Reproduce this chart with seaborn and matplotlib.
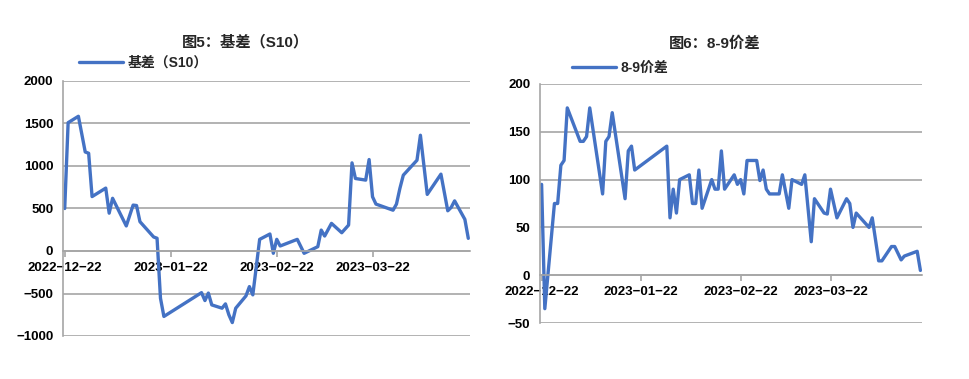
import matplotlib
matplotlib.use('Agg')
import matplotlib.pyplot as plt
import pandas as pd
import seaborn as sns

# ---------------- data ----------------
left_title = '图5：基差（S10）'
left_label = '基差（S10）'
left_dates = ['2022-12-22', '2022-12-23', '2022-12-26', '2022-12-28', '2022-12-29', '2022-12-30',
              '2023-01-03', '2023-01-04', '2023-01-05', '2023-01-09', '2023-01-11', '2023-01-12',
              '2023-01-13', '2023-01-17', '2023-01-18', '2023-01-19', '2023-01-20', '2023-01-31',
              '2023-02-01', '2023-02-02', '2023-02-03', '2023-02-06', '2023-02-07', '2023-02-08',
              '2023-02-09', '2023-02-10', '2023-02-13', '2023-02-14', '2023-02-15', '2023-02-17',
              '2023-02-20', '2023-02-21', '2023-02-22', '2023-02-23', '2023-02-28', '2023-03-02',
              '2023-03-06', '2023-03-07', '2023-03-08', '2023-03-10', '2023-03-13', '2023-03-15',
              '2023-03-16', '2023-03-17', '2023-03-20', '2023-03-21', '2023-03-22', '2023-03-23',
              '2023-03-28', '2023-03-29', '2023-03-30', '2023-03-31', '2023-04-04', '2023-04-05',
              '2023-04-07', '2023-04-11', '2023-04-13', '2023-04-14', '2023-04-15', '2023-04-18',
              '2023-04-19']
left_values = [500, 1510, 1585, 1165, 1150, 640,
               740, 445, 620, 295, 540, 535,
               345, 165, 150, -555, -770, -490,
               -583, -495, -634, -673, -622, -751,
               -842, -673, -528, -419, -516, 137,
               200, -27, 137, 59, 137, -27,
               51, 246, 176, 325, 215, 305,
               1037, 853, 834, 1076, 638, 552,
               480, 552, 736, 892, 1068, 1362,
               666, 904, 473, 513, 590, 372,
               149]

right_title = '图6：8-9价差'
right_label = '8-9价差'
right_dates = ['2022-12-22', '2022-12-23', '2022-12-26', '2022-12-27', '2022-12-28', '2022-12-29',
               '2022-12-30', '2023-01-03', '2023-01-04', '2023-01-05', '2023-01-06', '2023-01-10',
               '2023-01-11', '2023-01-12', '2023-01-13', '2023-01-17', '2023-01-18', '2023-01-19',
               '2023-01-20', '2023-01-30', '2023-01-31', '2023-02-01', '2023-02-02', '2023-02-03',
               '2023-02-06', '2023-02-07', '2023-02-08', '2023-02-09', '2023-02-10', '2023-02-13',
               '2023-02-14', '2023-02-15', '2023-02-16', '2023-02-17', '2023-02-20', '2023-02-21',
               '2023-02-22', '2023-02-23', '2023-02-24', '2023-02-27', '2023-02-28', '2023-03-01',
               '2023-03-02', '2023-03-03', '2023-03-06', '2023-03-07', '2023-03-09', '2023-03-10',
               '2023-03-13', '2023-03-14', '2023-03-16', '2023-03-17', '2023-03-20', '2023-03-21',
               '2023-03-22', '2023-03-24', '2023-03-27', '2023-03-28', '2023-03-29', '2023-03-30',
               '2023-04-03', '2023-04-04', '2023-04-06', '2023-04-07', '2023-04-10', '2023-04-11',
               '2023-04-13', '2023-04-14', '2023-04-18', '2023-04-19']
right_values = [95, -35, 75, 75, 115, 120,
                175, 140, 140, 145, 175, 85,
                140, 145, 170, 80, 130, 135,
                110, 135, 60, 90, 65, 100,
                105, 75, 75, 110, 70, 100,
                90, 90, 130, 90, 105, 95,
                100, 85, 120, 120, 99, 110,
                90, 85, 85, 105, 70, 100,
                95, 105, 35, 80, 65, 64,
                90, 60, 80, 75, 50, 65,
                50, 60, 15, 15, 30, 30,
                16, 20, 25, 5]

left_yticks = [-1000, -500, 0, 500, 1000, 1500, 2000]
right_yticks = [-50, 0, 50, 100, 150, 200]
xtick_dates = ['2022-12-22', '2023-01-22', '2023-02-22', '2023-03-22']
xtick_labels = ['2022−12−22', '2023−01−22', '2023−02−22', '2023−03−22']
x_start = '2022-12-21 12:00'
x_end = '2023-04-19 12:00'

# ---------------- style ----------------
sns.set_style('white')
plt.rcParams['font.family'] = ['Liberation Sans', 'Noto Sans CJK SC', 'DejaVu Sans']
plt.rcParams['font.weight'] = 'bold'
plt.rcParams['axes.unicode_minus'] = True

LINE = '#4472C4'
GRID = '#a6a6a6'

fig = plt.figure(figsize=(9.69, 3.79), dpi=100)
ax1 = fig.add_axes([63 / 969, 1 - 336 / 379, 407 / 969, 255 / 379])
ax2 = fig.add_axes([540 / 969, 1 - 323 / 379, 382 / 969, 239 / 379])

df1 = pd.DataFrame({'date': pd.to_datetime(left_dates), 'value': left_values})
df2 = pd.DataFrame({'date': pd.to_datetime(right_dates), 'value': right_values})

sns.lineplot(data=df1, x='date', y='value', ax=ax1, color=LINE, linewidth=2.4, label=left_label)
sns.lineplot(data=df2, x='date', y='value', ax=ax2, color=LINE, linewidth=2.4, label=right_label)


def style(ax, yticks):
    ax.set_ylim(yticks[0], yticks[-1])
    ax.set_yticks(yticks)
    ax.set_xlim(pd.Timestamp(x_start), pd.Timestamp(x_end))
    ax.set_xticks(pd.to_datetime(xtick_dates))
    ax.set_xticklabels(xtick_labels)
    ax.set_xlabel('')
    ax.set_ylabel('')
    ax.grid(axis='y', color=GRID, linewidth=1.2)
    ax.grid(axis='x', visible=False)
    ax.set_axisbelow(True)
    for s in ['top', 'right']:
        ax.spines[s].set_visible(False)
    ax.spines['left'].set_color(GRID)
    ax.spines['left'].set_linewidth(1.2)
    ax.spines['bottom'].set_position(('data', 0))
    ax.spines['bottom'].set_color(GRID)
    ax.spines['bottom'].set_linewidth(1.2)
    ax.tick_params(axis='y', length=0, pad=7, labelsize=9.5, labelcolor='black')
    ax.tick_params(axis='x', length=4, width=1.2, color=GRID, pad=4, labelsize=9.5,
                   labelcolor='black', direction='out', bottom=True)
    for t in ax.get_xticklabels() + ax.get_yticklabels():
        t.set_fontweight('bold')


style(ax1, left_yticks)
style(ax2, right_yticks)

for ax, anchor in [(ax1, (79 / 969, 1 - 63 / 379)), (ax2, (572 / 969, 1 - 68 / 379))]:
    ax.legend(loc='center left', bbox_to_anchor=anchor, bbox_transform=fig.transFigure,
              frameon=False, borderpad=0, borderaxespad=0, handlelength=3.2,
              handletextpad=0.3, prop={'size': 10, 'weight': 'bold'})

fig.text(245 / 969, 1 - 42 / 379, left_title, ha='center', va='center', fontsize=11, fontweight='bold')
fig.text(715 / 969, 1 - 44 / 379, right_title, ha='center', va='center', fontsize=11, fontweight='bold')

fig.savefig('out.png', dpi=100, facecolor='white')
